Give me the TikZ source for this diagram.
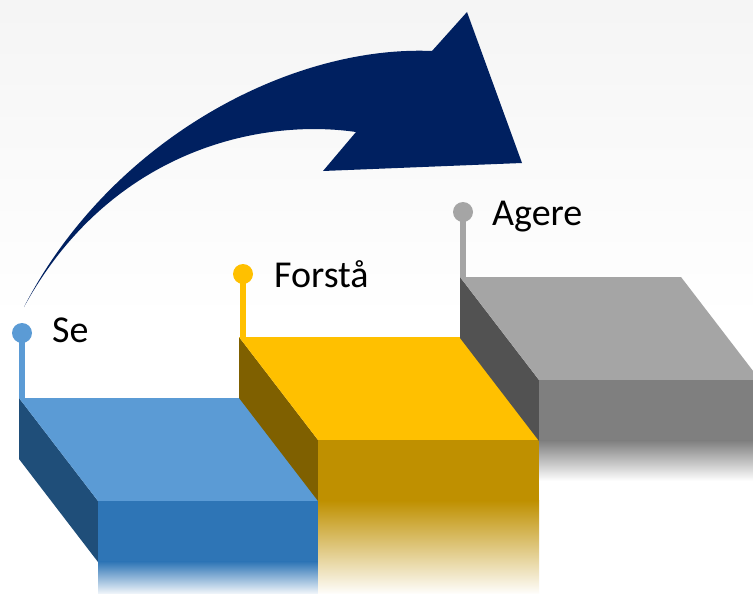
\documentclass[tikz,border=0pt]{standalone}
\usepackage{fontspec}
\setmainfont{Carlito}
\usetikzlibrary{positioning}
\definecolor{seTop}{HTML}{5B9BD5}
\definecolor{seFront}{HTML}{2E75B6}
\definecolor{seSide}{HTML}{1F4E79}
\definecolor{foTop}{HTML}{FFC000}
\definecolor{foFront}{HTML}{BF9000}
\definecolor{foSide}{HTML}{7F6000}
\definecolor{agTop}{HTML}{A5A5A5}
\definecolor{agFront}{HTML}{7F7F7F}
\definecolor{agSide}{HTML}{525252}
\definecolor{navyArrow}{HTML}{002060}
\tikzset{
  pin/.style={circle, fill=#1, inner sep=0pt, minimum size=20pt},
  stem/.style={line width=6pt, draw=#1},
  steplabel/.style={anchor=base west, inner sep=0pt, font=\fontsize{38}{45}\selectfont}
}
% one block of the stair: x, y of back-left corner, top, front, side colour, fade length
\newcommand{\stairblock}[6]{%
  \begin{scope}[shift={(#1,#2)}]
    \fill[#5] (0,0) -- (79,103) -- (79,164) -- (0,61) -- cycle;
    \fill[#3] (0,0) -- (221,0) -- (300,103) -- (79,103) -- cycle;
    \fill[#4] (79,103) rectangle (300,164);
    \shade[top color=#4, bottom color=white] (79,163.5) rectangle (300,164+#6);
  \end{scope}}

\begin{document}
\begin{tikzpicture}[x=1pt, y=-1pt]
\useasboundingbox (0,0) rectangle (753,594);
\clip (0,0) rectangle (753,594);
\fill[white] (0,0) rectangle (753,594);
\shade[top color=black!4, bottom color=white] (0,0) rectangle (753,320);

% pins
\node[pin=seTop] (sepin) at (22,333) {};
\node[pin=foTop] (fopin) at (243,274) {};
\node[pin=agTop] (agpin) at (463,212) {};
\coordinate (secorner) at (22,399);
\coordinate (focorner) at (243,338);
\coordinate (agcorner) at (463,278);
\draw[stem=seTop] (sepin.center) -- (secorner);
\draw[stem=foTop] (fopin.center) -- (focorner);
\draw[stem=agTop] (agpin.center) -- (agcorner);

% stairs
\stairblock{19}{398}{seTop}{seFront}{seSide}{34}
\stairblock{239}{337}{foTop}{foFront}{foSide}{94}
\stairblock{460}{277}{agTop}{agFront}{agSide}{40}

% big arrow
\fill[navyArrow] (24,307) .. controls (110,140) and (290,45) .. (432,51)
  -- (467,12) -- (522,163) -- (323,171) -- (356,132)
  .. controls (260,118) and (110,150) .. (24,307) -- cycle;

% labels
\node[steplabel] (se) at (52,342) {Se};
\node[steplabel] (forsta) at (274,287) {Forstå};
\node[steplabel] (agere) at (492,225) {Agere};
\end{tikzpicture}
\end{document}
